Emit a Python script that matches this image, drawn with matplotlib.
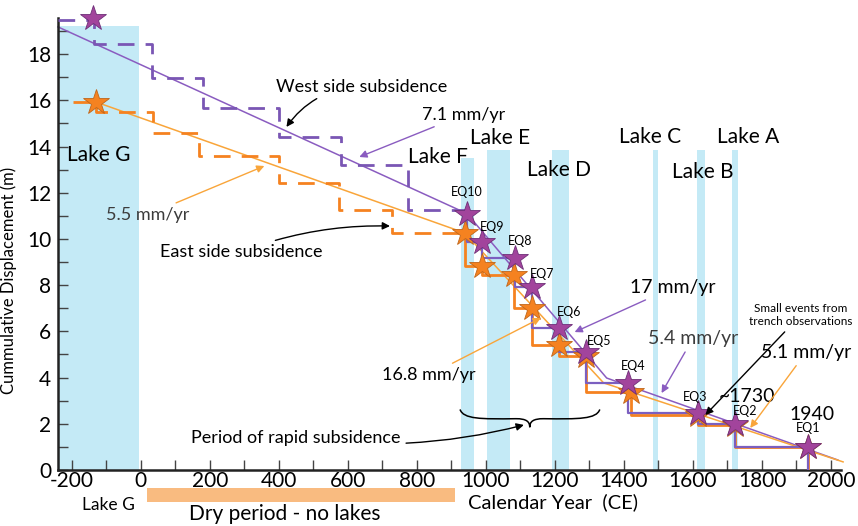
import matplotlib.pyplot as plt
from matplotlib.path import Path
from matplotlib.patches import PathPatch

# lake periods (years) and bar tops (m)
lake_names = ['Lake G', 'Lake F', 'Lake E', 'Lake D', 'Lake C', 'Lake B', 'Lake A']
lake_start = [-240, 928, 1003, 1191, 1483, 1613, 1714]
lake_end = [-5, 965, 1069, 1240, 1500, 1636, 1731]
lake_top = [19.2, 13.5, 13.85, 13.85, 13.85, 13.85, 13.85]

# west side (purple) events
west_year = [945, 988, 1084, 1133, 1211, 1289, 1413, 1616, 1722, 1933]
west_disp = [11.1, 9.87, 9.18, 7.92, 6.15, 5.1, 3.77, 2.47, 1.99, 1.0]
west_old_year = [-240, -136, 32, 179, 399, 581, 775, 945]
west_old_disp = [19.47, 19.47, 18.44, 16.97, 15.67, 14.42, 13.2, 11.25]
west_first = (-139, 19.55)

# east side (orange) events
east_year = [939, 989, 1081, 1133, 1211, 1289, 1419, 1616, 1722, 1933]
east_disp = [10.26, 8.83, 8.44, 7.0, 5.41, 4.93, 3.38, 2.4, 1.95, 1.0]
east_old_year = [-197, -130, 35, 168, 399, 575, 728, 939]
east_old_disp = [15.93, 15.93, 15.5, 14.6, 13.6, 12.42, 11.26, 10.26]
east_first = (-130, 15.93)

eq_labels = ['EQ10', 'EQ9', 'EQ8', 'EQ7', 'EQ6', 'EQ5', 'EQ4', 'EQ3', 'EQ2', 'EQ1']

# rate fit lines
west_fit_x = [-240, 945, 1350, 2020]
west_fit_y = [19.18, 11.1, 3.98, 0.43]
east_fit_x = [-130, 939, 1341, 2035]
east_fit_y = [15.93, 10.26, 3.77, 0.35]

purple = '#8a5cc0'
purple_star = '#a2449c'
orange = '#f58220'
light_orange = '#f9a53a'
lake_blue = '#c4eaf6'

plt.rcParams['font.family'] = ['Lato', 'DejaVu Sans']
plt.rcParams['axes.unicode_minus'] = False

fig = plt.figure(figsize=(8.58, 5.26), dpi=100)
ax = fig.add_axes([0.0676, 0.1065, 0.9126, 0.859])

# lakes
for name, a, b, top in zip(lake_names, lake_start, lake_end, lake_top):
    ax.fill_between([a, b], 0, top, color=lake_blue, lw=0, zorder=0)

lake_lab_pos = {'Lake G': (-122, 13.63), 'Lake F': (862, 13.55), 'Lake E': (1040, 14.37),
                'Lake D': (1212, 13.0), 'Lake C': (1475, 14.4), 'Lake B': (1629, 12.9),
                'Lake A': (1759, 14.4)}
for name in lake_names:
    x, y = lake_lab_pos[name]
    ax.text(x, y, name, fontsize=15, ha='center', va='center')

# fit lines
ax.plot(west_fit_x, west_fit_y, color=purple, lw=1.1, zorder=2, clip_on=False)
ax.plot(east_fit_x, east_fit_y, color=light_orange, lw=1.1, zorder=2, clip_on=False)

# old dashed step history
ax.step(west_old_year, west_old_disp, where='pre', color='#7a56b4', lw=2,
        dashes=(6, 4), zorder=3)
ax.step(east_old_year, east_old_disp, where='pre', color=orange, lw=2,
        dashes=(6, 4), zorder=3)

# solid steps for recent events
ax.step(east_year + [east_year[-1]], east_disp + [0], where='pre', color=orange, lw=2, zorder=3)
ax.step(west_year + [west_year[-1]], west_disp + [0], where='pre', color='#7b5fc0', lw=1.6, zorder=3)

# stars
ax.plot([east_first[0]] + east_year, [east_first[1]] + east_disp, ls='none', marker='*',
        ms=19, mfc=orange, mec='#c0661a', mew=0.6, zorder=5, clip_on=False)
ax.plot([west_first[0]] + west_year, [west_first[1]] + west_disp, ls='none', marker='*',
        ms=19, mfc=purple_star, mec='#6e2f78', mew=0.6, zorder=6, clip_on=False)

eq_offsets = [(0, 0.95), (30, 0.65), (15, 0.75), (30, 0.55), (30, 0.7), (40, 0.5),
              (15, 0.75), (-10, 0.7), (30, 0.55), (0, 0.8)]
for lab, x, y, (dx, dy) in zip(eq_labels, west_year, west_disp, eq_offsets):
    ax.text(x + dx, y + dy, lab, fontsize=9, ha='center', va='center', zorder=7)

arrow = dict(arrowstyle='-|>', lw=1, mutation_scale=11)

def note(text, xy, xytext, color, tcolor='black', size=13, rad=0.0, ha='center'):
    ax.annotate(text, xy=xy, xytext=xytext, fontsize=size, color=tcolor, ha=ha, va='center',
                arrowprops=dict(arrow, color=color, connectionstyle='arc3,rad=%s' % rad,
                                shrinkA=2, shrinkB=0), zorder=8, annotation_clip=False)

note('West side subsidence', (422, 14.85), (641, 16.6), 'black', rad=0.25)
note('7.1 mm/yr', (633, 13.55), (935, 15.37), purple, rad=0.0)
note('5.5 mm/yr', (358, 13.16), (20, 11.05), light_orange, tcolor='#3c3c3c', rad=0.0)
note('East side subsidence', (722, 10.56), (290, 9.44), 'black', rad=-0.1)
note('16.8 mm/yr', (1159, 6.58), (835, 4.1), light_orange, rad=0.0)
note('17 mm/yr', (1257, 5.97), (1542, 7.9), purple, size=14, rad=0.0)
note('5.4 mm/yr', (1509, 3.33), (1600, 5.7), purple, tcolor='#3c3c3c', size=14, rad=0.0)
note('5.1 mm/yr', (1766, 1.82), (1928, 5.1), light_orange, size=14, rad=0.0)
note('Small events from\ntrench observations', (1636, 2.38), (1912, 6.7), 'black',
     size=8.5, rad=0.0)
note('Period of rapid subsidence', (1110, 1.95), (449, 1.38), 'black', rad=0.1)

ax.text(1756, 3.16, '~1730', fontsize=14, ha='center', va='center')
ax.text(1945, 2.42, '1940', fontsize=14, ha='center', va='center')

# brace over the rapid subsidence window
bx0, bx1, bmid = 925, 1330, 1127
verts = [(bx0, 2.62), (bx0 + 10, 2.2), (bx0 + 60, 2.2), (bmid - 40, 2.22),
         (bmid - 10, 2.22), (bmid, 2.1), (bmid, 1.85),
         (bmid, 2.1), (bmid + 10, 2.22), (bmid + 40, 2.22),
         (bx1 - 60, 2.2), (bx1 - 10, 2.2), (bx1, 2.62)]
codes = [Path.MOVETO] + [Path.CURVE4] * 12
ax.add_patch(PathPatch(Path(verts, codes), fc='none', ec='black', lw=1.1, zorder=8))

# axes styling
ax.set_xlim(-240, 2029)
ax.set_ylim(0, 19.56)
for s in ['top', 'right']:
    ax.spines[s].set_visible(False)
for s in ['left', 'bottom']:
    ax.spines[s].set_linewidth(1.8)
    ax.spines[s].set_color('#222222')
ax.set_xticks(range(-200, 2001, 200))
ax.set_xticks(range(-200, 2001, 100), minor=True)
ax.set_yticks(range(0, 19, 2))
ax.set_yticks(range(0, 20, 1), minor=True)
ax.tick_params(which='both', direction='in', length=7, width=1, colors='#444444',
               labelcolor='black', labelsize=15)
ax.tick_params(axis='x', pad=1)
ax.tick_params(axis='y', pad=5)
ax.set_ylabel('Cummulative Displacement (m)', fontsize=12)
ax.yaxis.set_label_coords(-0.052, 0.42)

# labels under the axis
fig.text(108 / 858, 1 - 505 / 526, 'Lake G', fontsize=12.5, ha='center', va='center')
fig.text(553 / 858, 1 - 502 / 526, 'Calendar Year  (CE)', fontsize=14.5, ha='center', va='center')
ax.fill_between([17, 910], -0.78, -1.39, color='#f9bb80', lw=0, clip_on=False)
fig.text(285 / 858, 1 - 514 / 526, 'Dry period - no lakes', fontsize=15, ha='center', va='center')

fig.savefig('out.png', dpi=100)
